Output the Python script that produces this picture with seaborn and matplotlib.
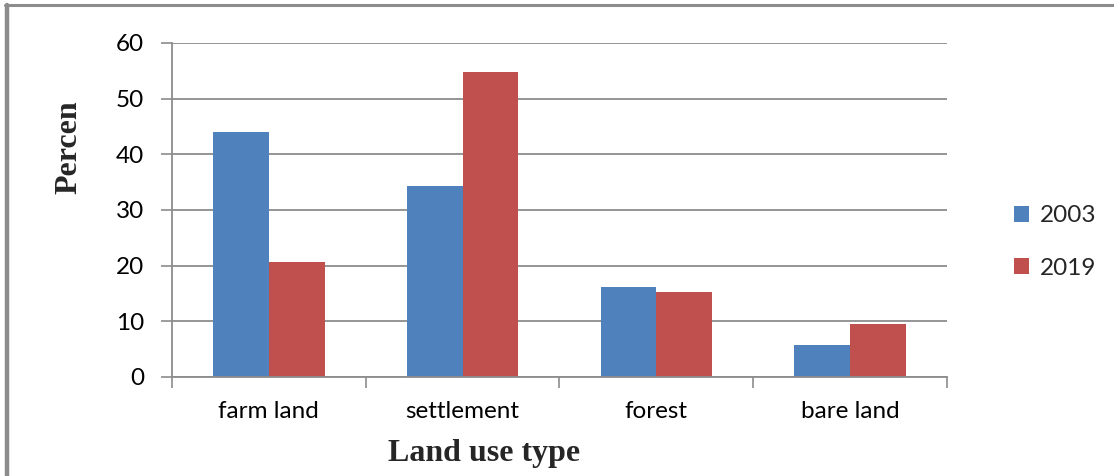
import matplotlib
matplotlib.use("Agg")
import matplotlib.pyplot as plt
from matplotlib.lines import Line2D
import seaborn as sns
import pandas as pd

categories = ["farm land", "settlement", "forest", "bare land"]
years = ["2003", "2019"]
values_2003 = [44.0, 34.3, 16.2, 5.7]
values_2019 = [20.7, 54.7, 15.2, 9.5]
y_ticks = [0, 10, 20, 30, 40, 50, 60]

df = pd.DataFrame({
    "category": categories * 2,
    "year": [years[0]] * 4 + [years[1]] * 4,
    "value": values_2003 + values_2019,
})

sns.set_theme(style="white")
plt.rcParams["font.family"] = ["Lato", "DejaVu Sans"]

fig = plt.figure(figsize=(11.14, 4.76), dpi=100)
ax = fig.add_axes([0.1544, 0.208, 0.6956, 0.7017])

palette = {"2003": "#4F81BD", "2019": "#C0504D"}
sns.barplot(data=df, x="category", y="value", hue="year", order=categories,
            hue_order=years, palette=palette, width=0.575, saturation=1,
            edgecolor="none", ax=ax)

grid_c = "#8C8C8C"
ax.set_ylim(0, 60)
ax.set_xlim(-0.5, 3.5)
ax.set_yticks(y_ticks)
ax.set_yticklabels([str(v) for v in y_ticks], fontsize=17.5)
ax.yaxis.grid(True, color=grid_c, linewidth=1.3)
ax.set_axisbelow(True)
ax.tick_params(axis="y", direction="out", length=8, width=1.2, color=grid_c,
               left=True, pad=12, labelcolor="black")
ax.set_xticks(range(4))
ax.set_xticklabels(categories, fontsize=17.5)
ax.set_xticks([-0.5, 0.5, 1.5, 2.5, 3.5], minor=True)
ax.tick_params(axis="x", which="major", length=0, pad=17, labelcolor="black")
ax.tick_params(axis="x", which="minor", direction="out", length=8, width=1.2,
               color=grid_c, bottom=True)
for side in ["top", "right"]:
    ax.spines[side].set_visible(False)
for side in ["left", "bottom"]:
    ax.spines[side].set_color(grid_c)
    ax.spines[side].set_linewidth(1.3)

ax.set_ylabel("Percen", fontsize=23, fontweight="bold",
              family=["Liberation Serif"], va="center")
ax.yaxis.set_label_coords(-0.133, 0.689)
ax.set_xlabel("Land use type", fontsize=23, fontweight="bold",
              family=["Liberation Serif"], va="center")
ax.xaxis.set_label_coords(0.403, -0.228)

handles, labels = ax.get_legend_handles_labels()
ax.legend(handles, labels, loc="center left", bbox_to_anchor=(1.058, 0.404),
          frameon=False, fontsize=17.5, handlelength=0.62, handleheight=0.62,
          handletextpad=0.45, labelspacing=1.3)

# outer frame lines along the left and top
fig.add_artist(Line2D([0.0063, 0.0063], [0, 0.989], color="#8C8C8C",
                      linewidth=3.2, transform=fig.transFigure))
fig.add_artist(Line2D([0.0045, 1.0], [0.989, 0.989], color="#8C8C8C",
                      linewidth=2.2, transform=fig.transFigure))

fig.savefig("out.png", dpi=100)
